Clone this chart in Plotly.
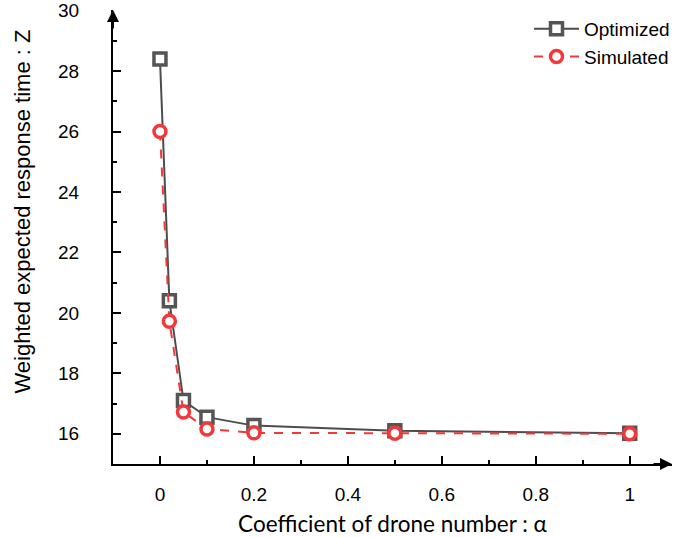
import plotly.graph_objects as go

alpha = [0, 0.02, 0.05, 0.1, 0.2, 0.5, 1.0]
optimized = [28.4, 20.4, 17.1, 16.55, 16.27, 16.1, 16.02]
simulated = [26.0, 19.72, 16.72, 16.16, 16.03, 16.02, 16.0]

x_ticks = [0, 0.2, 0.4, 0.6, 0.8, 1.0]
x_ticklabels = ["0", "0.2", "0.4", "0.6", "0.8", "1"]
y_ticks = [16, 18, 20, 22, 24, 26, 28, 30]

x_title = "Coefficient of drone number : α"
y_title = "Weighted expected response time : Z"

FONT = "Liberation Sans, Arial, sans-serif"

fig = go.Figure()
fig.add_trace(go.Scatter(
    x=alpha, y=optimized, name="Optimized", mode="lines+markers",
    line=dict(color="#4d4d4d", width=2),
    marker=dict(symbol="square", size=12, color="white", line=dict(color="#555555", width=3.5)),
))
fig.add_trace(go.Scatter(
    x=alpha, y=simulated, name="Simulated", mode="lines+markers",
    line=dict(color="#f2383a", width=2, dash="dash"),
    marker=dict(symbol="circle", size=12, color="white", line=dict(color="#f2383a", width=3.5)),
))

fig.update_layout(
    width=675, height=537,
    margin=dict(l=113, r=3, t=10, b=73, autoexpand=False),
    plot_bgcolor="white", paper_bgcolor="white",
    font=dict(family=FONT, size=19, color="black"),
    showlegend=True,
    legend=dict(x=1.0, xref="container", xanchor="right", y=1.0, yanchor="top",
                bgcolor="rgba(0,0,0,0)", font=dict(size=19),
                tracegroupgap=0, itemwidth=45),
    xaxis=dict(
        range=[-0.1, 1.09], showgrid=False, zeroline=False, automargin=False,
        showline=True, linecolor="black", linewidth=2,
        ticks="inside", ticklen=8, tickwidth=1.5, tickcolor="black",
        tickvals=x_ticks, ticktext=x_ticklabels,
        minor=dict(ticks="inside", ticklen=4, tickwidth=1.5, dtick=0.1, tick0=0, tickcolor="black"),
        ticklabelstandoff=12,
        title=dict(text=x_title,
                   font=dict(size=22.5, family="Lato, Open Sans, sans-serif"), standoff=13),
    ),
    yaxis=dict(
        range=[15, 30.02], showgrid=False, zeroline=False, automargin=False,
        showline=True, linecolor="black", linewidth=2,
        ticks="inside", ticklen=8, tickwidth=1.5, tickcolor="black",
        tickvals=y_ticks, ticklabeloverflow="allow",
        minor=dict(ticks="inside", ticklen=4, tickwidth=1.5, dtick=1, tick0=15, tickcolor="black"),
        ticklabelstandoff=28,
    ),
)

# y-axis title (positioned like the reference, slightly above plot centre)
fig.add_annotation(text=y_title, textangle=-90, xref="paper", yref="paper",
                   x=-0.162, y=0.557, xanchor="center", yanchor="middle",
                   showarrow=False, font=dict(size=22, family=FONT))

# axis arrow heads
fig.add_annotation(x=-0.1, y=30.02, xref="x", yref="y", ax=0, ay=20, showarrow=True,
                   arrowhead=2, arrowsize=1.2, arrowwidth=2, arrowcolor="black", text="")
fig.add_annotation(x=1.09, y=15, xref="x", yref="y", ax=-20, ay=0, showarrow=True,
                   arrowhead=2, arrowsize=1.2, arrowwidth=2, arrowcolor="black", text="")

fig.write_html("out.html")
